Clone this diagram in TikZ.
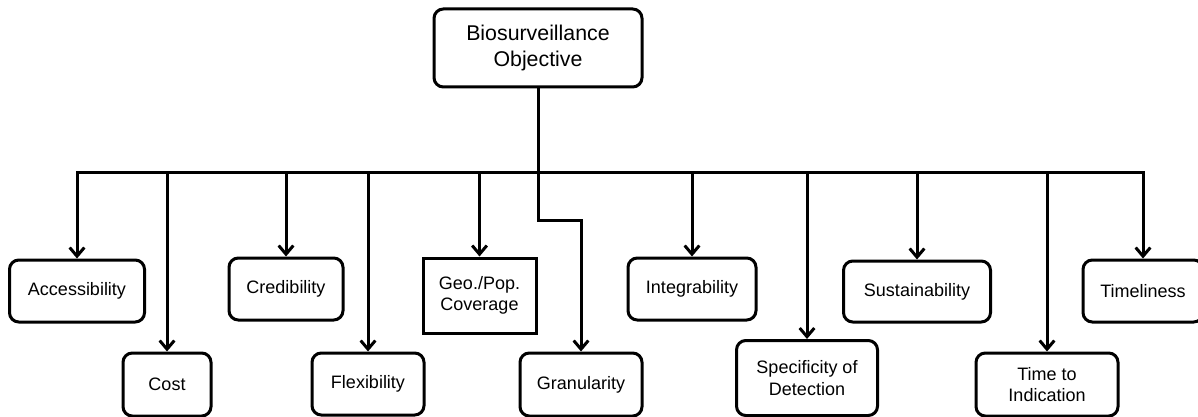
\documentclass[tikz,border=0pt]{standalone}
\usepackage{fontspec}
\setmainfont{Liberation Sans}
\usetikzlibrary{arrows.meta}
\tikzset{
  conn/.style={line width=2.25pt},
  arr/.style={conn, -{Straight Barb[length=6.5pt,width=11pt,line width=2.25pt]}},
  box/.style={draw, line width=2.25pt, rounded corners=7pt, align=center, inner sep=0pt,
    font=\fontsize{13.5pt}{16.2pt}\selectfont},
  sqbox/.style={box, rounded corners=0pt},
  topbox/.style={box, font=\fontsize{16pt}{19.3pt}\selectfont},
  sz/.style 2 args={minimum width=#1*0.75pt, minimum height=#2*0.75pt}
}
\begin{document}
\begin{tikzpicture}[x=0.75pt,y=-0.75pt]
\useasboundingbox (0,0) rectangle (1198,417);
\node[topbox, sz={208}{78}] (top) at (538,48) {Biosurveillance\\Objective};
\node[box, sz={135}{62}] (acc) at (77,291) {Accessibility};
\node[box, sz={88}{63}] (cost) at (167,384.5) {Cost};
\node[box, sz={114}{62}] (cred) at (286,289) {Credibility};
\node[box, sz={112}{62}] (flex) at (368,384) {Flexibility};
\node[sqbox, sz={113}{75}] (geo) at (479.5,295.5) {Geo./Pop.\\Coverage};
\node[box, sz={122}{63}] (gran) at (581,384.5) {Granularity};
\node[box, sz={128}{62}] (integ) at (692,289) {Integrability};
\node[box, sz={141}{75}] (spec) at (807,378) {Specificity of\\Detection};
\node[box, sz={147}{61}] (sust) at (917,291.5) {Sustainability};
\node[box, sz={142}{63}] (tti) at (1047,384.5) {Time to\\Indication};
\node[box, sz={120}{62}] (timel) at (1143,291) {Timeliness};
\coordinate (bus) at (538,172.5);
\coordinate (gbend) at (538,220);
\draw[conn] (top.south) -- (bus);
\foreach \n in {acc,cost,cred,flex,geo,integ,spec,sust,tti,timel}
  \draw[arr] (bus) -| (\n.north);
\draw[arr] (bus) -- (gbend) -| (gran.north);
\end{tikzpicture}
\end{document}
